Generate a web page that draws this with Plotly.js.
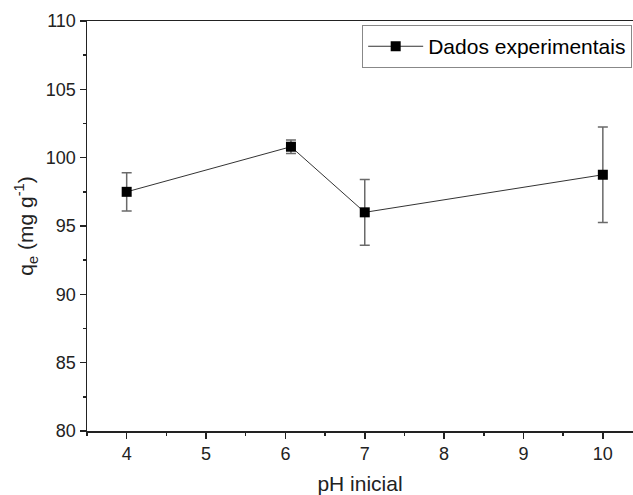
<!DOCTYPE html>
<html>
<head>
<meta charset="utf-8">
<script src="https://cdn.plot.ly/plotly-3.0.1.min.js"></script>
<style>html,body{margin:0;padding:0;background:#fff;}#chart{width:633px;height:495px;}</style>
</head>
<body>
<div id="chart"></div>
<script>
var phValues = [4, 6.07, 7, 10];
var qeValues = [97.5, 100.8, 96.0, 98.75];
var qeErrors = [1.4, 0.5, 2.4, 3.5];
var seriesName = "Dados experimentais";
var xTitle = "pH inicial";
var yTitle = "q<sub>e</sub> (mg g<sup>-1</sup>)";

var trace = {
  x: phValues,
  y: qeValues,
  type: "scatter",
  mode: "lines+markers",
  name: seriesName,
  line: {color: "#333", width: 1},
  marker: {symbol: "square", size: 10, color: "#000"},
  error_y: {type: "data", array: qeErrors, visible: true, color: "#6a6a6a", thickness: 1.5, width: 5}
};

var font = {family: "Liberation Sans, Arial, sans-serif", color: "#000"};
var layout = {
  width: 633, height: 495,
  margin: {l: 87, r: 0, t: 21, b: 64},
  paper_bgcolor: "#fff", plot_bgcolor: "#fff",
  font: font,
  showlegend: true,
  legend: {
    x: 0.504, y: 0.99, xanchor: "left", yanchor: "top",
    bordercolor: "#888", borderwidth: 1, bgcolor: "#fff",
    itemwidth: 55,
    font: {family: font.family, size: 21, color: "#000"}
  },
  xaxis: {
    range: [3.5, 10.38],
    tickvals: [4, 5, 6, 7, 8, 9, 10],
    ticks: "outside", ticklen: 6, tickwidth: 1.5, tickcolor: "#222",
    minor: {dtick: 0.5, tick0: 0, ticks: "outside", ticklen: 3, tickwidth: 1.5, tickcolor: "#222"},
    showline: true, linecolor: "#222", linewidth: 1.5, mirror: true,
    showgrid: false, zeroline: false,
    tickfont: {family: font.family, size: 18, color: "#222"},
    title: {text: xTitle, font: {family: font.family, size: 21, color: "#222"}, standoff: 18}
  },
  yaxis: {
    range: [80, 110],
    tickvals: [80, 85, 90, 95, 100, 105, 110],
    ticks: "outside", ticklen: 6, tickwidth: 1.5, tickcolor: "#222",
    minor: {dtick: 2.5, tick0: 0, ticks: "outside", ticklen: 3, tickwidth: 1.5, tickcolor: "#222"},
    showline: true, linecolor: "#222", linewidth: 1.5,
    showgrid: false, zeroline: false,
    tickfont: {family: font.family, size: 18, color: "#222"},
    title: {text: yTitle, font: {family: font.family, size: 21, color: "#222"}, standoff: 6}
  }
};

Plotly.newPlot("chart", [trace], layout, {displayModeBar: false, staticPlot: true});
</script>
</body>
</html>
